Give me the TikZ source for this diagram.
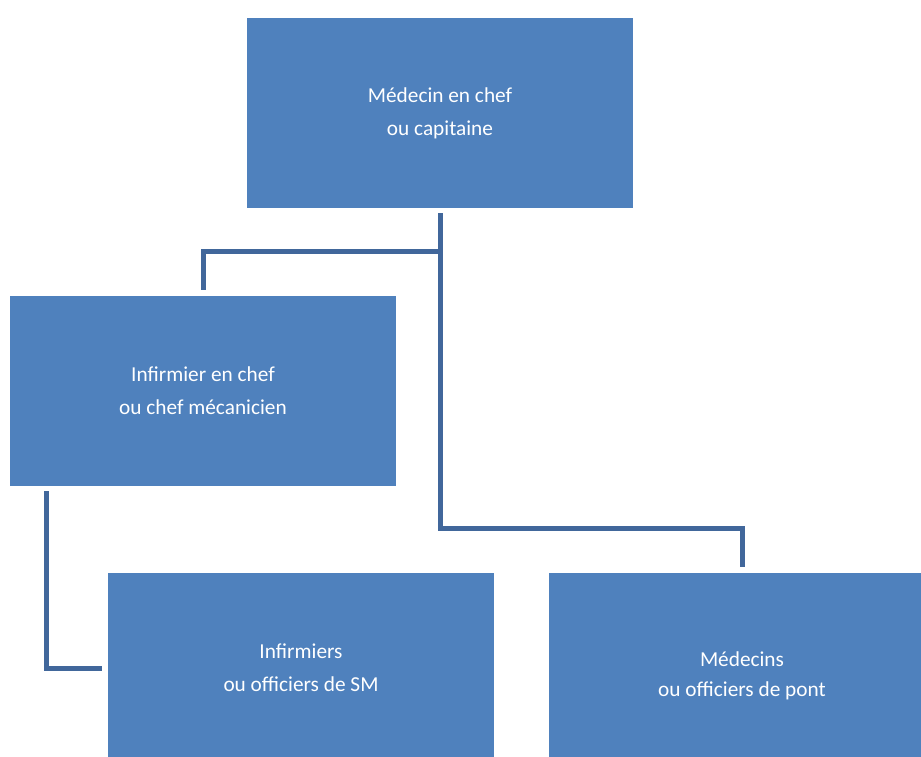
\documentclass[tikz,border=0pt]{standalone}
\usepackage{fontspec}
\setmainfont{Carlito}
\definecolor{boxfill}{HTML}{4F81BD}
\definecolor{linkcol}{HTML}{41679B}
\tikzset{
  boxtext/.style={text=white, align=center, inner sep=0pt,
    font=\fontsize{21.3}{33}\selectfont},
  orgbox/.style={fill=boxfill, draw=none, minimum width=386pt, minimum height=190pt,
    boxtext},
  conn/.style={draw=linkcol, line width=5pt, line cap=butt, line join=miter}
}
\begin{document}
\begin{tikzpicture}[x=1pt,y=-1pt]
  \useasboundingbox (0,0) rectangle (921,757);
  \clip (0,0) rectangle (921,757);
  % boxes
  \node[orgbox] (top) at (440,113) {Médecin en chef\\ou capitaine};
  \node[orgbox] (mid) at (203,391) {Infirmier en chef\\ou chef mécanicien};
  \node[orgbox] (bl)  at (301,668) {Infirmiers\\ou officiers de SM};
  \node[orgbox, label={[boxtext, font=\fontsize{21.3}{30}\selectfont, yshift=-8pt]center:Médecins\\ou officiers de pont}] (br) at (742,668) {};
  % junctions on the trunk below the top box
  \coordinate (ja) at ([yshift=-43.5pt]top.south);
  \coordinate (jb) at ([yshift=-320.5pt]top.south);
  % connectors
  \draw[conn] ([yshift=-5pt]top.south) -- (ja) -| ([yshift=6pt]mid.north);
  \draw[conn] (ja) -- (jb) -| ([yshift=5.5pt]br.north);
  \draw[conn] ([xshift=36.7pt,yshift=-5pt]mid.south west) |- ([xshift=-6pt]bl.west);
\end{tikzpicture}
\end{document}
